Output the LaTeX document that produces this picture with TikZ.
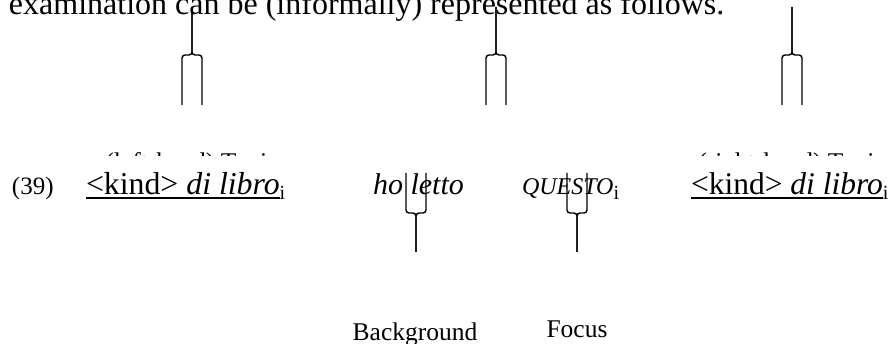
\documentclass[tikz,border=0pt]{standalone}
\usepackage{fontspec}
\setmainfont{Liberation Serif}
\newcommand\setfs[1]{\fontsize{#1}{#1}\selectfont}
\begin{document}
\begin{tikzpicture}[x=1pt,y=-1pt,
  bracestroke/.style={line width=1.4pt, rounded corners=3pt, line join=round},
  txt/.style={inner sep=0pt, outer sep=0pt, anchor=base west},
  lab/.style={inner sep=0pt, outer sep=0pt, anchor=base, font=\setfs{25.5}},
  upbrace/.pic={
    \draw[bracestroke] (-10,105) |- (0,55) -- (0,7);
    \draw[bracestroke] (10,105) |- (0,55) -- (0,7);
  },
  downbrace/.pic={
    \draw[bracestroke] (-10,173) |- (0,213) -- (0,252);
    \draw[bracestroke] (10,173) |- (0,213) -- (0,252);
  }]
\useasboundingbox (0,0) rectangle (894,344);
\clip (0,0) rectangle (894,344);

% top sentence (cut by the top edge)
\node[txt, font=\setfs{32}] (intro) at (9,15) {examination can be (informally) represented as follows.};

% clipped topic labels
\begin{scope}
  \clip (0,0) rectangle (894,155.5);
  \node[lab] (ltopic) at (192,171) {(left-hand) Topic};
  \node[lab] (rtopic) at (792,171) {(right-hand) Topic};
\end{scope}

% example row
\node[txt, font=\setfs{25}] (num) at (12,195) {(39)};
\node[txt, font=\setfs{31.8}] (k1) at (86,195) {<kind> \textit{di libro}};
\node[txt, font=\setfs{20}] (s1) at ([yshift=-5]k1.base east) {i};
\draw[line width=1.5pt] ([yshift=-3]k1.base west) -- ([yshift=-3]k1.base east);

\node[txt, font=\setfs{30}] (ho) at (373,195) {\textit{ho letto}};
\node[txt, font=\setfs{24}] (qu) at (522,195) {\textit{QUESTO}};
\node[txt, font=\setfs{20}] (s2) at ([yshift=-5]qu.base east) {i};

\node[txt, font=\setfs{31.5}] (k2) at (691,195) {<kind> \textit{di libro}};
\node[txt, font=\setfs{20}] (s3) at ([yshift=-5]k2.base east) {i};
\draw[line width=1.5pt] ([yshift=-3]k2.base west) -- ([yshift=-3]k2.base east);

% braces
\pic at (192,0) {upbrace};
\pic at (496,0) {upbrace};
\pic at (792,0) {upbrace};
\pic at (416,0) {downbrace};
\pic at (577,0) {downbrace};

% lower labels
\node[lab] (bg) at (415,341) {Background};
\node[lab] (fc) at (577,338) {Focus};
\end{tikzpicture}
\end{document}
